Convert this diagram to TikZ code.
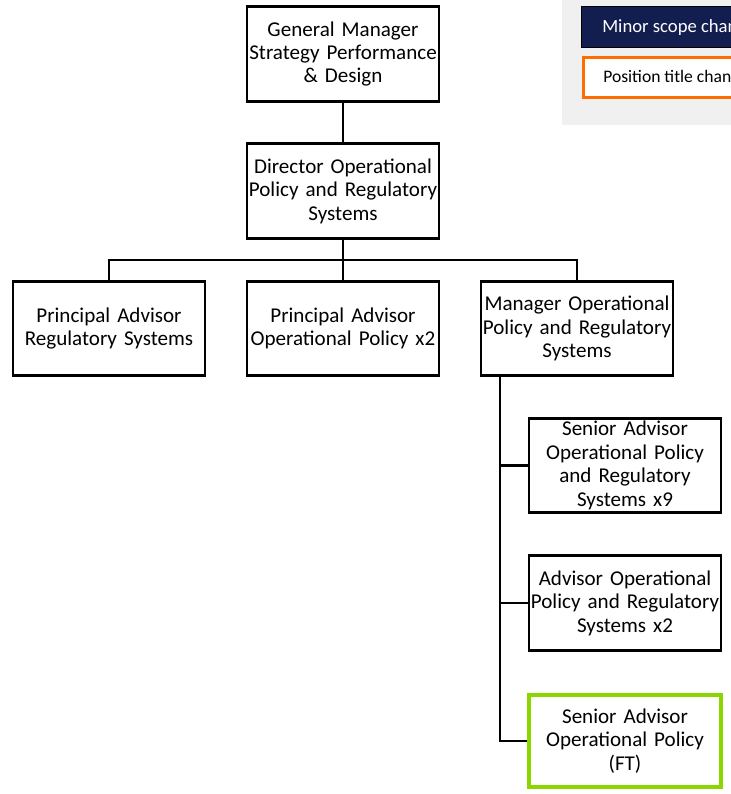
\documentclass[tikz,border=0pt]{standalone}
\usepackage{fontspec}
\setmainfont{Carlito}
\definecolor{navy}{HTML}{121E50}
\definecolor{legendbg}{HTML}{F0F0F0}
\definecolor{orangeedge}{HTML}{FF6C00}
\definecolor{limeedge}{HTML}{8CD600}
\begin{document}
\begin{tikzpicture}[x=0.75pt,y=-0.75pt,
  rolebox/.style={draw=black,line width=2.1pt,fill=white,minimum width=143.5pt,minimum height=71pt,
    inner sep=0pt,align=center,text width=144pt,font=\fontsize{15.8}{17.6}\selectfont},
  newbox/.style={rolebox,draw=limeedge,line width=3.6pt,minimum width=141pt,minimum height=69pt},
  link/.style={draw=black,line width=2.1pt}]
\useasboundingbox (0,0) rectangle (731,794);

% legend panel
\fill[legendbg] (562,0) rectangle (731,125);
\begin{scope}
\clip (562,0) rectangle (731,125);
\node[draw=black,line width=1pt,fill=navy,minimum width=200*0.75pt,minimum height=41*0.75pt,anchor=north west,inner sep=0pt] (minor) at (581,6) {};
\node[text=white,anchor=west,inner sep=0pt,font=\fontsize{14}{16}\selectfont] (minortxt) at (602,28) {Minor scope change};
\node[draw=orangeedge,line width=2.4pt,fill=white,minimum width=200*0.75pt,minimum height=40*0.75pt,anchor=north west,inner sep=0pt] (ptitle) at (582,56) {};
\node[anchor=west,inner sep=0pt,font=\fontsize{13.2}{15}\selectfont] (ptitletxt) at (603,78) {Position title change};
\end{scope}

% positions
\node[rolebox] (gm) at (343,54) {General Manager\\Strategy Performance\\\& Design};
\node[rolebox] (dir) at (343,191) {Director Operational\\Policy and Regulatory\\Systems};
\node[rolebox] (pareg) at (109,328.5) {Principal Advisor\\Regulatory Systems};
\node[rolebox] (paop) at (343,328.5) {Principal Advisor\\Operational Policy x2};
\node[rolebox] (mgr) at (577,328.5) {Manager Operational\\Policy and Regulatory\\Systems};
\node[rolebox] (sa9) at (625,465.5) {Senior Advisor\\Operational Policy\\and Regulatory\\Systems x9};
\node[rolebox] (adv) at (625,603) {Advisor Operational\\Policy and Regulatory\\Systems x2};
\node[newbox] (saft) at (625,741) {Senior Advisor\\Operational Policy\\(FT)};

% reporting lines
\coordinate (bus) at (343,260);
\coordinate (spine) at (500,377);
\draw[link] (gm.south) -- (dir.north);
\draw[link] (dir.south) -- (bus);
\draw[link] (pareg.north) -- (pareg.north |- bus) -- (mgr.north |- bus) -- (mgr.north);
\draw[link] (paop.north) -- (paop.north |- bus);
\draw[link] (spine) |- (saft.west);
\draw[link] (spine |- sa9.west) -- (sa9.west);
\draw[link] (spine |- adv.west) -- (adv.west);
\end{tikzpicture}
\end{document}
